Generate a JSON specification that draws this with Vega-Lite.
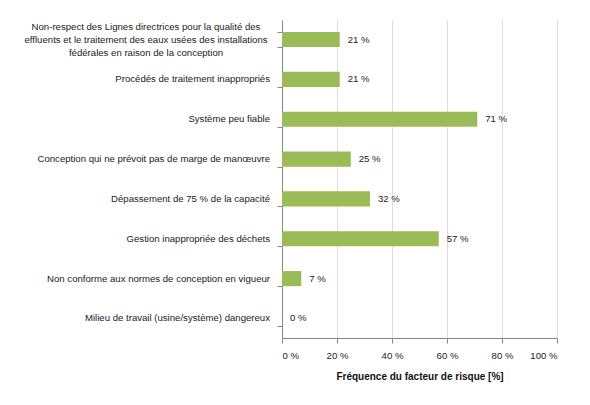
{
  "$schema": "https://vega.github.io/schema/vega-lite/v6.json",
  "description": "Fréquence des facteurs de risque liés à la conception",
  "autosize": {"type": "none"},
  "padding": {"left": 282, "top": 20, "right": 33, "bottom": 67},
  "width": 275,
  "height": 318,
  "background": "white",
  "data": {
    "values": [
      {"facteur": "Non-respect des Lignes directrices pour la qualité des|effluents et le traitement des eaux usées des installations|fédérales en raison de la conception", "freq": 21},
      {"facteur": "Procédés de traitement inappropriés", "freq": 21},
      {"facteur": "Système peu fiable", "freq": 71},
      {"facteur": "Conception qui ne prévoit pas de marge de manœuvre", "freq": 25},
      {"facteur": "Dépassement de 75 % de la capacité", "freq": 32},
      {"facteur": "Gestion inappropriée des déchets", "freq": 57},
      {"facteur": "Non conforme aux normes de conception en vigueur", "freq": 7},
      {"facteur": "Milieu de travail (usine/système) dangereux", "freq": 0}
    ]
  },
  "transform": [{"calculate": "datum.freq + ' %'", "as": "etiquette"}],
  "encoding": {
    "y": {
      "field": "facteur",
      "type": "nominal",
      "sort": null,
      "scale": {"paddingInner": 0.62, "paddingOuter": 0.3},
      "axis": {
        "title": null,
        "labels": false,
        "tickBand": "extent",
        "tickSize": 5,
        "tickColor": "#868686",
        "domainColor": "#868686",
        "grid": false
      }
    },
    "x": {
      "field": "freq",
      "type": "quantitative",
      "scale": {"domain": [0, 100], "nice": false},
      "axis": {
        "title": "Fréquence du facteur de risque [%]",
        "values": [0, 20, 40, 60, 80, 100],
        "labelExpr": "datum.value + ' %'",
        "labelFont": "Liberation Sans",
        "labelFontSize": 9.6,
        "labelColor": "#222222",
        "labelPadding": 7,
        "tickSize": 5,
        "tickColor": "#868686",
        "domainColor": "#868686",
        "titleFont": "Liberation Sans",
        "titleFontSize": 10,
        "titleFontWeight": "bold",
        "titleColor": "#111111",
        "titlePadding": 12
      }
    }
  },
  "layer": [
    {
      "transform": [{"aggregate": [{"op": "count", "as": "n"}]}],
      "mark": {"type": "rule", "color": "#b4b4b4", "strokeWidth": 1},
      "encoding": {"x": {"datum": 20}, "y": null}
    },
    {
      "transform": [{"aggregate": [{"op": "count", "as": "n"}]}],
      "mark": {"type": "rule", "color": "#b4b4b4", "strokeWidth": 1},
      "encoding": {"x": {"datum": 40}, "y": null}
    },
    {
      "transform": [{"aggregate": [{"op": "count", "as": "n"}]}],
      "mark": {"type": "rule", "color": "#b4b4b4", "strokeWidth": 1},
      "encoding": {"x": {"datum": 60}, "y": null}
    },
    {
      "transform": [{"aggregate": [{"op": "count", "as": "n"}]}],
      "mark": {"type": "rule", "color": "#b4b4b4", "strokeWidth": 1},
      "encoding": {"x": {"datum": 80}, "y": null}
    },
    {"mark": {"type": "bar", "color": "#9BBB59"}},
    {
      "mark": {"type": "text", "align": "left", "dx": 8, "font": "Liberation Sans", "fontSize": 9.6, "color": "#222222"},
      "encoding": {"text": {"field": "etiquette"}}
    },
    {
      "transform": [{"filter": "indexof(datum.facteur, '|') < 0"}],
      "mark": {"type": "text", "align": "right", "baseline": "middle", "dx": -12, "font": "Liberation Sans", "fontSize": 9.6, "color": "#222222"},
      "encoding": {"x": {"datum": 0}, "text": {"field": "facteur"}}
    },
    {
      "transform": [{"filter": "indexof(datum.facteur, '|') >= 0"}],
      "mark": {"type": "text", "align": "center", "baseline": "middle", "dx": -136, "dy": -13, "lineBreak": "|", "lineHeight": 13, "font": "Liberation Sans", "fontSize": 9.6, "color": "#222222"},
      "encoding": {"x": {"datum": 0}, "text": {"field": "facteur"}}
    }
  ],
  "config": {"view": {"stroke": null}}
}
